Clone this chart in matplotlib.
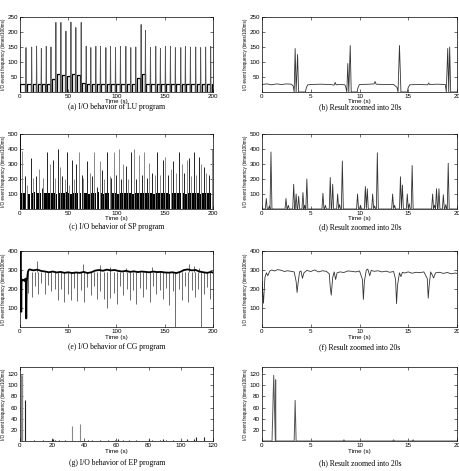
import numpy as np
import matplotlib
matplotlib.use('Agg')
import matplotlib.pyplot as plt

# ---- (a) LU program, 200 s ----
lu_t = [6.2, 12.1, 17.2, 22.1, 27.2, 32.1, 37.2, 42.4, 47.6, 52.8, 57.9, 63.4, 68.6,
        73.4, 78.6, 83.4, 89.0, 93.8, 99.0, 104.1, 109.7, 114.8, 120.0, 125.5, 130.0,
        135.2, 140.7, 145.5, 150.7, 155.9, 161.0, 166.6, 171.4, 176.6, 182.1, 187.2,
        192.4, 197.6]
lu_h = [148, 150, 153, 145, 152, 150, 232, 232, 203, 233, 215, 232, 153,
        148, 152, 152, 148, 152, 148, 152, 152, 148, 150, 225, 205,
        148, 152, 145, 152, 152, 148, 148, 152, 150, 150, 148,
        150, 152]
# baseline level before the first spike and after each spike
lu_base = [27, 27, 26, 28, 27, 27, 45, 60, 58, 55, 60, 58, 30, 27,
           26, 28, 27, 27, 26, 28, 27, 27, 28, 48, 60, 28,
           27, 26, 28, 27, 27, 28, 26, 27, 28, 27, 26,
           27, 27]

# ---- (b) LU zoomed into 20 s ----
luz_t = [0.0, 0.5, 1.0, 1.5, 2.0, 2.5, 3.0, 3.2, 3.3, 3.4, 3.5, 3.65, 3.75, 4.45, 4.55,
         4.7, 5.0, 6.0, 7.0, 7.4, 7.5, 7.6, 8.0, 8.5, 8.6, 8.7, 8.8, 8.9, 9.05, 9.15,
         9.75, 9.85, 10.0, 11.0, 11.5, 11.6, 11.7, 12.5, 13.5, 13.85, 13.95, 14.1, 14.25,
         14.9, 15.0, 15.15, 16.0, 17.0, 17.1, 17.2, 18.0, 18.8, 18.9, 19.05, 19.15,
         19.25, 19.35, 20.0]
luz_v = [25, 27, 24, 27, 25, 27, 26, 20, 0, 145, 0, 125, 0, 0, 15,
         24, 25, 26, 25, 23, 32, 24, 25, 24, 15, 0, 95, 0, 155, 0,
         0, 15, 25, 26, 27, 35, 26, 25, 25, 15, 0, 155, 0,
         0, 15, 24, 25, 24, 30, 25, 26, 25, 0, 145, 0,
         150, 0, 0]

# ---- (c) SP program, 200 s ----
sp_t = [0.5, 2.4, 5.5, 6.9, 11.0, 13.8, 16.2, 19.7, 22.4, 24.1, 27.9, 31.4, 34.5, 36.6,
        39.0, 41.4, 43.8, 46.6, 48.6, 51.0, 53.8, 55.9, 58.3, 60.7, 63.8, 65.5, 69.7,
        72.4, 74.5, 76.9, 79.3, 82.4, 85.2, 87.2, 90.0, 92.8, 94.8, 97.2, 99.7, 102.4,
        104.5, 107.2, 110.0, 112.1, 115.5, 118.3, 120.3, 123.8, 126.6, 128.6, 131.4,
        134.1, 136.9, 139.7, 142.4, 145.2, 148.3, 150.7, 153.4, 156.2, 159.0, 161.4,
        164.5, 167.6, 170.0, 172.8, 175.2, 177.6, 180.3, 182.8, 185.5, 187.9, 190.7,
        193.1, 195.9, 198.6]
sp_h = [520, 390, 220, 160, 340, 210, 220, 270, 140, 210, 380, 300, 330, 210,
        400, 280, 220, 200, 380, 160, 330, 200, 300, 380, 225, 210, 320,
        240, 220, 380, 150, 320, 260, 200, 380, 220, 210, 380, 230, 400,
        200, 300, 290, 200, 380, 400, 200, 360, 230, 380, 210,
        310, 240, 230, 380, 230, 330, 350, 230, 270, 320, 240,
        380, 300, 240, 330, 340, 220, 380, 230, 350, 300, 280,
        240, 230, 400]
sp_base = [105, 108, 104, 110, 103, 106, 112, 104, 107, 105, 110, 104, 106, 108,
           103, 109, 105, 104, 111, 106, 103, 108, 105, 107, 104, 110, 106,
           103, 109, 105, 104, 112, 106, 103, 108, 105, 104, 107, 110, 103,
           106, 108, 104, 105, 109, 103, 106, 104, 110, 105, 107,
           104, 108, 103, 106, 105, 110, 104, 107, 103, 108, 105,
           104, 109, 106, 103, 105, 108, 104, 106, 110, 103, 105,
           107, 104, 106, 108]

# ---- (d) SP zoomed into 20 s ----
spz_t = [0.44, 0.75, 0.92, 2.46, 2.7, 3.25, 3.5, 3.76, 4.2, 4.38, 4.6, 6.25, 6.5, 7.0,
         7.25, 7.76, 7.96, 8.24, 9.8, 10.1, 10.6, 10.8, 11.35, 11.55, 11.83, 13.4,
         13.6, 14.2, 14.4, 14.9, 15.1, 15.4, 17.5, 17.7, 17.9, 18.15, 18.6, 18.85, 19.1]
spz_h = [70, 20, 380, 70, 25, 165, 100, 85, 110, 25, 200, 105, 25, 210,
         165, 100, 30, 320, 100, 25, 150, 135, 100, 20, 375, 100,
         25, 215, 160, 100, 35, 290, 100, 25, 135, 135, 95, 30, 305]

# ---- (e) CG program, 200 s ----
cg_base_t = [0.0, 0.3, 0.8, 1.3, 1.6, 2.0, 3.0, 4.0, 5.0, 5.6, 6.0, 6.5, 7.0, 7.6, 8.2, 9.0,
             10, 14, 18, 22, 26, 30, 34, 38, 42, 46, 50, 54, 58, 62, 66, 70, 74, 78,
             82, 86, 90, 94, 98, 102, 106, 110, 114, 118, 122, 126, 130, 134, 138,
             142, 146, 150, 154, 158, 162, 166, 170, 174, 178, 182, 186, 190, 194,
             198, 200]
cg_base_v = [300, 420, 410, 80, 240, 250, 245, 248, 242, 255, 250, 45, 240, 265, 290, 300,
             303, 298, 302, 295, 292, 288, 292, 287, 290, 285, 288, 284, 287, 285, 290,
             284, 288, 297, 300, 296, 302, 298, 300, 295, 292, 296, 290, 293, 289, 292,
             290, 288, 292, 289, 290, 287, 286, 288, 284, 290, 300, 303, 298, 300, 292,
             288, 285, 290, 286]
cg_dip_t = [8.6, 12.0, 15.3, 18.8, 22.1, 25.6, 29.0, 32.3, 35.8, 39.1, 42.6, 45.9, 49.4,
            52.7, 56.2, 59.5, 63.0, 66.3, 69.8, 73.1, 76.6, 79.9, 83.4, 86.7, 90.2, 93.5,
            97.0, 100.3, 103.8, 107.1, 110.6, 113.9, 117.4, 120.7, 124.2, 127.5, 131.0,
            134.3, 137.8, 141.1, 144.6, 147.9, 151.4, 154.7, 158.2, 160.8, 164.4, 167.7,
            171.2, 174.5, 178.0, 181.3, 184.8, 187.2, 190.6, 193.9, 197.4]
cg_dip_v = [180, 160, 215, 175, 230, 175, 220, 190, 200, 140, 200, 130, 175,
            140, 205, 135, 195, 130, 210, 170, 215, 150, 190, 145, 100, 155,
            180, 120, 215, 170, 200, 140, 195, 120, 205, 160, 200,
            130, 215, 175, 195, 150, 205, 115, 190, 0, 200, 140,
            215, 130, 195, 160, 200, 0, 175, 210, 150]
cg_up_t = [18.0, 65.0, 83.0, 93.0, 110.0, 137.0, 175.0, 180.0, 185.0]
cg_up_v = [345, 330, 325, 318, 310, 315, 332, 320, 312]

# ---- (f) CG zoomed into 20 s ----
cgz_t = [0.0, 0.15, 0.3, 0.45, 0.6, 0.8, 1.0, 1.3, 1.6, 2.0, 2.3, 2.6, 3.0, 3.3, 3.5, 3.6,
         3.7, 3.85, 4.0, 4.15, 4.3, 4.6, 5.0, 5.4, 5.8, 6.2, 6.6, 6.9, 7.0, 7.1, 7.25,
         7.4, 7.55, 7.7, 8.0, 8.4, 8.8, 9.2, 9.6, 10.0, 10.3, 10.4, 10.5, 10.7, 10.85,
         11.05, 11.2, 11.5, 11.9, 12.3, 12.7, 13.1, 13.5, 13.7, 13.8, 13.9, 14.1, 14.25,
         14.4, 14.6, 15.0, 15.4, 15.8, 16.2, 16.6, 16.95, 17.05, 17.15, 17.3, 17.45,
         17.6, 17.8, 18.2, 18.6, 19.0, 19.4, 19.8, 20.0]
cgz_v = [240, 125, 260, 285, 270, 295, 300, 295, 302, 298, 292, 296, 293, 290, 240, 182,
         230, 290, 295, 256, 285, 298, 292, 300, 290, 296, 293, 280, 210, 168, 260,
         290, 250, 285, 290, 287, 295, 293, 290, 295, 250, 145, 240, 300, 305,
         270, 298, 293, 296, 290, 294, 288, 292, 250, 123, 220, 285, 265,
         288, 284, 290, 283, 288, 286, 290, 255, 152, 220, 290, 275,
         258, 285, 288, 282, 287, 280, 284, 282]

# ---- (g) EP program, 120 s ----
ep_t = [0.6, 0.8, 1.0, 1.2, 1.4, 3.3, 9.0, 14.0, 19.7, 20.7, 21.8, 24.0, 28.0, 32.4, 37.3,
        42.0, 45.0, 50.0, 55.0, 59.0, 61.0, 64.0, 68.0, 72.0, 80.0, 82.0, 87.0, 89.0,
        91.0, 95.0, 100.0, 104.0, 108.0, 109.5, 114.5]
ep_h = [118, 118, 118, 118, 112, 73, 2, 2, 3, 3, 2, 2, 2, 27, 30,
        2, 2, 2, 2, 2, 3, 2, 2, 2, 3, 2, 2, 3,
        2, 2, 2, 3, 3, 7, 8]

# ---- (h) EP zoomed into 20 s ----
epz_t = [0.0, 1.03, 1.2, 1.37, 1.4, 1.42, 3.3, 3.4, 3.5, 8.3, 8.4, 8.5, 13.4, 13.5, 13.6,
         15.4, 15.5, 15.6, 20.0]
epz_v = [0, 0, 118, 0, 110, 0, 0, 73, 0, 0, 2, 0, 0, 2, 0,
         0, 2, 0, 0]

W, H = 460, 471
fig = plt.figure(figsize=(W / 100, H / 100), dpi=100)

tick_font = 'Liberation Sans'
cap_font = 'Liberation Serif'
ylab = 'I/O event frequency (times/100ms)'


def make_ax(l, t, r, b, xlim, ylim, xticks, yticks):
    ax = fig.add_axes([l / W, 1 - b / H, (r - l) / W, (b - t) / H])
    ax.set_xlim(xlim)
    ax.set_ylim(ylim)
    ax.set_xticks(xticks)
    ax.set_yticks(yticks)
    ax.tick_params(direction='in', top=True, right=True, length=2, width=0.4,
                   labelsize=4.5, pad=1.5)
    for lab in ax.get_xticklabels() + ax.get_yticklabels():
        lab.set_fontfamily(tick_font)
    for s in ax.spines.values():
        s.set_linewidth(0.5)
    ax.set_xlabel('Time (s)', fontsize=4.5, family=tick_font, labelpad=0.3)
    ax.set_ylabel(ylab, fontsize=3.3, family=tick_font, labelpad=1.0)
    return ax


def caption(x, y, s):
    fig.text(x / W, 1 - y / H, s, ha='center', va='center', fontsize=5.5, family=cap_font)


LX = (20, 213)
RX = (262, 457)
rows = [(17, 92), (134, 209), (251, 327), (367, 441)]

# (a)
ax = make_ax(LX[0], rows[0][0], LX[1], rows[0][1], (0, 200), (0, 250),
             [0, 50, 100, 150, 200], [50, 100, 150, 200, 250])
edges = [0.0] + lu_t + [200.0]
for i in range(len(lu_base)):
    s = edges[i] + (1.0 if i > 0 else 0.0)
    e = edges[i + 1] - (0.8 if i < len(lu_t) else 0.0)
    ax.plot([s, s, e, e], [0, lu_base[i], lu_base[i], 0], color='black', lw=0.9)
for t, h in zip(lu_t, lu_h):
    ax.plot([t - 0.4, t, t + 0.4], [0, h, 0], color='#555555', lw=0.6)
caption(117, 107, '(a) I/O behavior of LU program')

# (b)
ax = make_ax(RX[0], rows[0][0], RX[1], rows[0][1], (0, 20), (0, 250),
             [0, 5, 10, 15, 20], [50, 100, 150, 200, 250])
ax.plot(luz_t, luz_v, color='#333333', lw=0.6)
caption(360, 107, '(b) Result zoomed into 20s')

# (c)
ax = make_ax(LX[0], rows[1][0], LX[1], rows[1][1], (0, 200), (0, 500),
             [0, 50, 100, 150, 200], [100, 200, 300, 400, 500])
sp_edges = np.array([0.0] + sp_t + [200.0])
ax.bar(sp_edges[:-1] + 0.25, sp_base, width=np.diff(sp_edges) - 0.5, align='edge',
       color='black', linewidth=0)
spike_cols = ['#222222' if i % 2 == 0 else '#888888' for i in range(len(sp_t))]
ax.vlines(sp_t, 0, sp_h, colors=spike_cols, lw=0.7)
caption(117, 227, '(c) I/O behavior of SP program')

# (d)
ax = make_ax(RX[0], rows[1][0], RX[1], rows[1][1], (0, 20), (0, 500),
             [0, 5, 10, 15, 20], [100, 200, 300, 400, 500])
xs, ys = [0.0], [0]
for t, h in zip(spz_t, spz_h):
    xs += [t - 0.1, t, t + 0.1]
    ys += [0, h, 0]
xs.append(20.0)
ys.append(0)
ax.plot(xs, ys, color='#333333', lw=0.6)
caption(360, 227, '(d) Result zoomed into 20s')

# (e)
ax = make_ax(LX[0], rows[2][0], LX[1], rows[2][1], (0, 200), (0, 400),
             [0, 50, 100, 150, 200], [100, 200, 300, 400])
ax.vlines(cg_dip_t, cg_dip_v, 292, colors='#555555', lw=0.6)
ax.vlines(cg_up_t, 290, cg_up_v, colors='#333333', lw=0.5)
ax.plot(cg_base_t, cg_base_v, color='black', lw=1.3)
caption(117, 347, '(e) I/O behavior of CG program')

# (f)
ax = make_ax(RX[0], rows[2][0], RX[1], rows[2][1], (0, 20), (0, 400),
             [0, 5, 10, 15, 20], [100, 200, 300, 400])
ax.plot(cgz_t, cgz_v, color='#333333', lw=0.6)
caption(360, 347, '(f) Result zoomed into 20s')

# (g)
ax = make_ax(LX[0], rows[3][0], LX[1], rows[3][1], (0, 120), (0, 133),
             [0, 20, 40, 60, 80, 100, 120], [20, 40, 60, 80, 100, 120])
ep_cols = ['#888888' if h > 10 and t != 3.3 else '#222222' for t, h in zip(ep_t, ep_h)]
ax.vlines(ep_t, 0, ep_h, colors=ep_cols, lw=0.8)
caption(117, 463, '(g) I/O behavior of EP program')

# (h)
ax = make_ax(RX[0], rows[3][0], RX[1], rows[3][1], (0, 20), (0, 133),
             [0, 5, 10, 15, 20], [20, 40, 60, 80, 100, 120])
ax.plot(epz_t, epz_v, color='#555555', lw=0.7)
caption(360, 463, '(h) Result zoomed into 20s')

plt.savefig('out.png', dpi=100)
